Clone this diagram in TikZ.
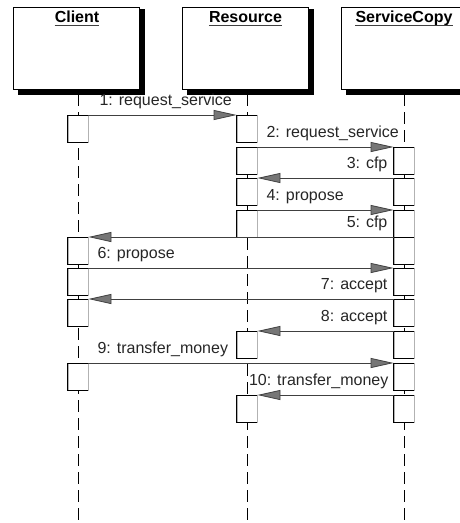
\documentclass[tikz,border=0pt]{standalone}
\usepackage{fontspec}
\setmainfont{Liberation Sans}
\usetikzlibrary{arrows.meta}
\definecolor{linegray}{HTML}{404040}
\definecolor{headgray}{HTML}{767676}
\definecolor{textgray}{HTML}{262626}
\begin{document}
\begin{tikzpicture}[x=1pt,y=1pt,
  obj/.style={draw=black, line width=1pt, fill=white, minimum width=126pt, minimum height=82pt, inner sep=0pt},
  boxshadow/.style={draw=black, line width=4.5pt},
  title/.style={font=\fontsize{16}{19}\selectfont\bfseries, inner sep=0pt, anchor=base},
  uline/.style={line width=1.2pt, draw=black!75},
  life/.style={draw=black, line width=1pt, dash pattern=on 12pt off 6pt},
  act/.style={draw=black!30, line width=0.8pt, fill=white, minimum width=20pt, minimum height=27pt, inner sep=0pt, anchor=north},
  actedge/.style={draw=black, line width=1pt},
  msg/.style={draw=linegray, line width=1pt, -{Triangle[length=23pt,width=10pt,fill=headgray,line width=0.8pt]}},
  lbl/.style={font=\fontsize{16}{19}\selectfont, text=textgray, inner sep=0pt},
]
\useasboundingbox (0,0) rectangle (460,-523);

% object boxes
\node[obj] (client) at (76,-48) {};
\node[obj] (resource) at (245,-48) {};
\node[obj] (service) at (404.5,-48) {};
% solid black shadow strips along the right and bottom sides
\foreach \b in {client,resource,service}
  \draw[boxshadow] ([shift={(2.75,-2.75)}]\b.north east) -- ([shift={(2.75,-2.75)}]\b.south east)
    -- ([shift={(5,-2.75)}]\b.south west);

\node[title] (tclient) at (77,-22) {Client};
\node[title] (tresource) at (245.5,-22) {Resource};
\node[title] (tservice) at (404,-22) {ServiceCopy};
\foreach \t in {tclient,tresource,tservice}
  \draw[uline] ([yshift=-3.5pt]\t.base west) -- ([yshift=-3.5pt]\t.base east);

% lifelines
\coordinate (cl0) at (78,-94);  \coordinate (cl1) at (78,-523);
\coordinate (rl0) at (247,-94); \coordinate (rl1) at (247,-523);
\coordinate (sl0) at (404,-94); \coordinate (sl1) at (404,-523);
\draw[life] (cl0) -- (cl1);
\draw[life] (rl0) -- (rl1);
\draw[life] (sl0) -- (sl1);

% activation boxes
\node[act] (c1) at (78,-115) {};
\node[act] (c2) at (78,-237) {};
\node[act] (c3) at (78,-268) {};
\node[act] (c4) at (78,-299) {};
\node[act] (c5) at (78,-363) {};

\node[act] (r1) at (247,-115) {};
\node[act] (r2) at (247,-147) {};
\node[act] (r3) at (247,-178) {};
\node[act] (r4) at (247,-210) {};
\node[act] (r5) at (247,-331) {};
\node[act] (r6) at (247,-395) {};

\node[act] (s1) at (404,-147) {};
\node[act] (s2) at (404,-178) {};
\node[act] (s3) at (404,-210) {};
\node[act] (s4) at (404,-237) {};
\node[act] (s5) at (404,-268) {};
\node[act] (s6) at (404,-299) {};
\node[act] (s7) at (404,-331) {};
\node[act] (s8) at (404,-363) {};
\node[act] (s9) at (404,-395) {};

\foreach \n in {c1,c2,c3,c4,c5,r1,r2,r3,r4,r5,r6,s1,s2,s3,s4,s5,s6,s7,s8,s9}
  \draw[actedge] (\n.north east) -- (\n.north west) -- (\n.south west) -- (\n.south east);

% messages
\draw[msg] (c1.north east) -- (r1.north west);
\draw[msg] (r2.north east) -- (s1.north west);
\draw[msg] (s2.north west) -- (r3.north east);
\draw[msg] (r4.north east) -- (s3.north west);
\draw[msg] (s4.north west) -- (c2.north east);
\draw[msg] (c3.north east) -- (s5.north west);
\draw[msg] (s6.north west) -- (c4.north east);
\draw[msg] (s7.north west) -- (r5.north east);
\draw[msg] (c5.north east) -- (s8.north west);
\draw[msg] (s9.north west) -- (r6.north east);

% labels
\node[lbl, anchor=base west] (l1) at ([xshift=11pt,yshift=10pt]c1.north east) {1: request\_service};
\node[lbl, anchor=base west] (l2) at ([xshift=9pt,yshift=10pt]r2.north east) {2: request\_service};
\node[lbl, anchor=base east] (l3) at ([xshift=-6pt,yshift=10pt]s2.north west) {3: cfp};
\node[lbl, anchor=base west] (l4) at ([xshift=9pt,yshift=10pt]r4.north east) {4: propose};
\node[lbl, anchor=base east] (l5) at ([xshift=-6pt,yshift=10pt]s4.north west) {5: cfp};
\node[lbl, anchor=base west] (l6) at ([xshift=9pt,yshift=10pt]c3.north east) {6: propose};
\node[lbl, anchor=base east] (l7) at ([xshift=-6pt,yshift=10pt]s6.north west) {7: accept};
\node[lbl, anchor=base east] (l8) at ([xshift=-6pt,yshift=10pt]s7.north west) {8: accept};
\node[lbl, anchor=base west] (l9) at ([xshift=9pt,yshift=10pt]c5.north east) {9: transfer\_money};
\node[lbl, anchor=base east] (l10) at ([xshift=-5pt,yshift=10pt]s9.north west) {10: transfer\_money};
\end{tikzpicture}
\end{document}
